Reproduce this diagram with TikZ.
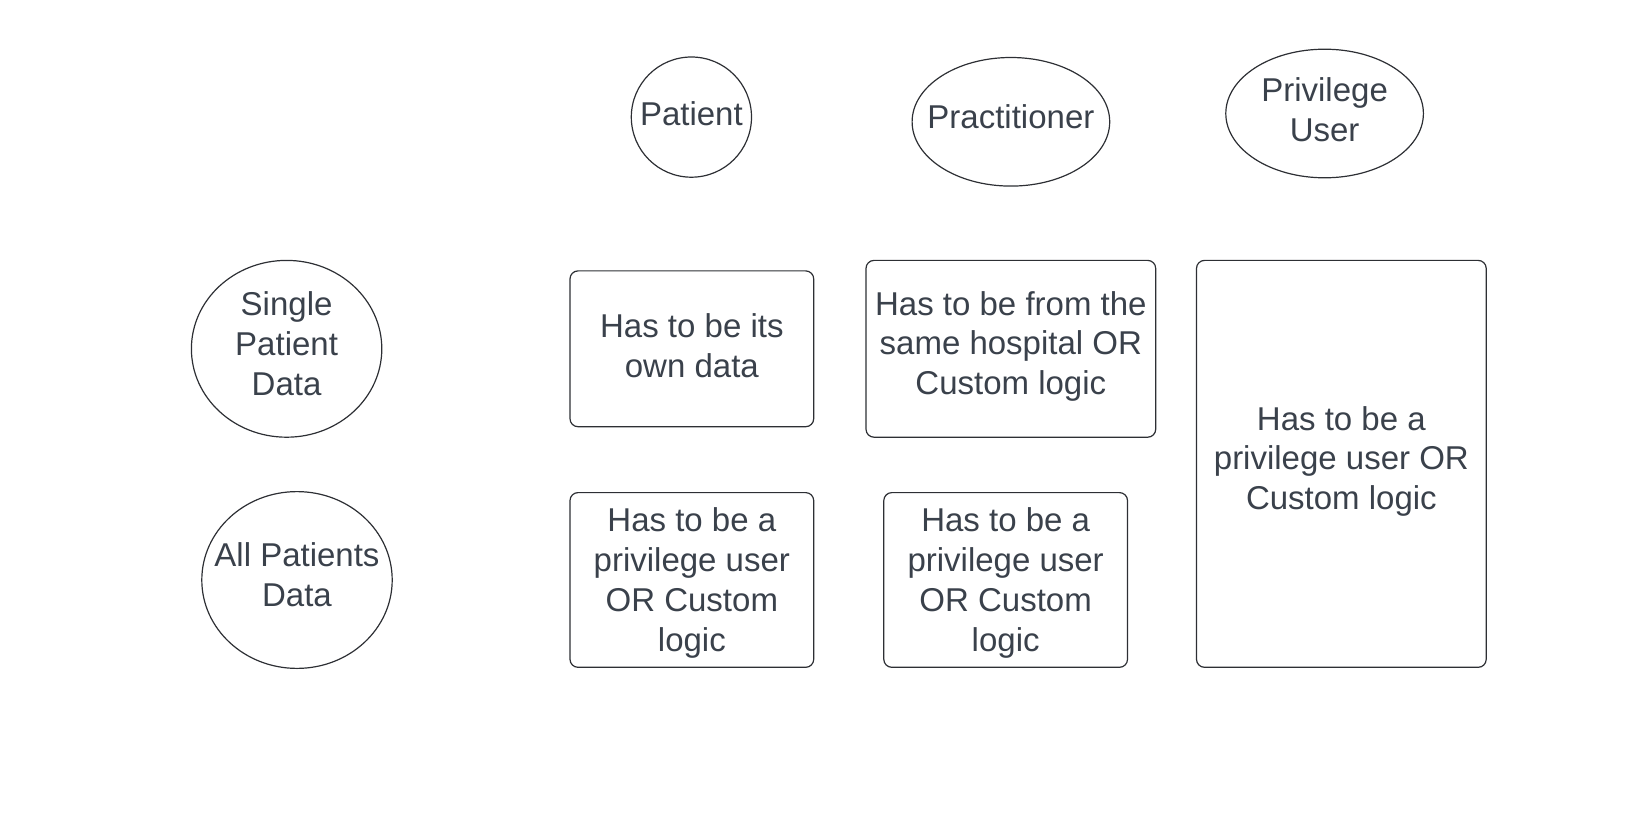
\documentclass[tikz,border=0pt]{standalone}
\usepackage{fontspec}
\setmainfont{Liberation Sans}
\usetikzlibrary{shapes.geometric}
\definecolor{txt}{RGB}{58,65,75}
\definecolor{ln}{RGB}{45,47,52}
\begin{document}
\begin{tikzpicture}[x=1pt,y=-1pt,
 shp/.style={draw=ln, line width=1.2pt, inner sep=0pt},
 oval/.style={shp, ellipse},
 boxr/.style={shp, rectangle, rounded corners=8pt},
 lbl/.style={text=txt, font=\fontsize{33}{39.7}\selectfont, align=center, inner sep=0pt}]
\useasboundingbox (0,0) rectangle (1640,818);
% header ovals
\node[oval, minimum width=120.2pt, minimum height=120.2pt] (patient) at (691.4,117.1) {};
\node[lbl] (patientT) at ([yshift=3.5pt]patient.center) {Patient};
\node[oval, minimum width=197.6pt, minimum height=128.6pt] (pract) at (1010.9,121.8) {};
\node[lbl] (practT) at ([yshift=5pt]pract.center) {Practitioner};
\node[oval, minimum width=197.6pt, minimum height=128.6pt] (priv) at (1324.6,113.5) {};
\node[lbl] (privT) at ([yshift=3.5pt]priv.center) {Privilege\\User};
% row ovals
\node[oval, minimum width=190.4pt, minimum height=176.8pt] (single) at (286.6,348.8) {};
\node[lbl] (singleT) at ([yshift=5pt]single.center) {Single\\Patient\\Data};
\node[oval, minimum width=190.4pt, minimum height=176.8pt] (all) at (297.0,580.0) {};
\node[lbl] (allT) at ([yshift=5pt]all.center) {All Patients\\Data};
% boxes
\node[boxr, minimum width=243.7pt, minimum height=155.8pt] (b1) at (691.85,348.8) {};
\node[lbl] (b1T) at ([yshift=3pt]b1.center) {Has to be its\\own data};
\node[boxr, minimum width=289.7pt, minimum height=176.8pt] (b2) at (1010.85,348.8) {};
\node[lbl] (b2T) at ([yshift=2.5pt]b2.center) {Has to be from the\\same hospital OR\\Custom logic};
\node[boxr, minimum width=289.7pt, minimum height=406.9pt] (b3) at (1341.35,463.85) {};
\node[lbl] (b3T) at ([yshift=2.5pt]b3.center) {Has to be a\\privilege user OR\\Custom logic};
\node[boxr, minimum width=243.7pt, minimum height=174.7pt] (b4) at (691.85,579.95) {};
\node[lbl] (b4T) at ([yshift=-3pt]b4.center) {Has to be a\\privilege user\\OR Custom\\logic};
\node[boxr, minimum width=243.7pt, minimum height=174.7pt] (b5) at (1005.65,579.95) {};
\node[lbl] (b5T) at ([yshift=-3pt]b5.center) {Has to be a\\privilege user\\OR Custom\\logic};
\end{tikzpicture}
\end{document}
